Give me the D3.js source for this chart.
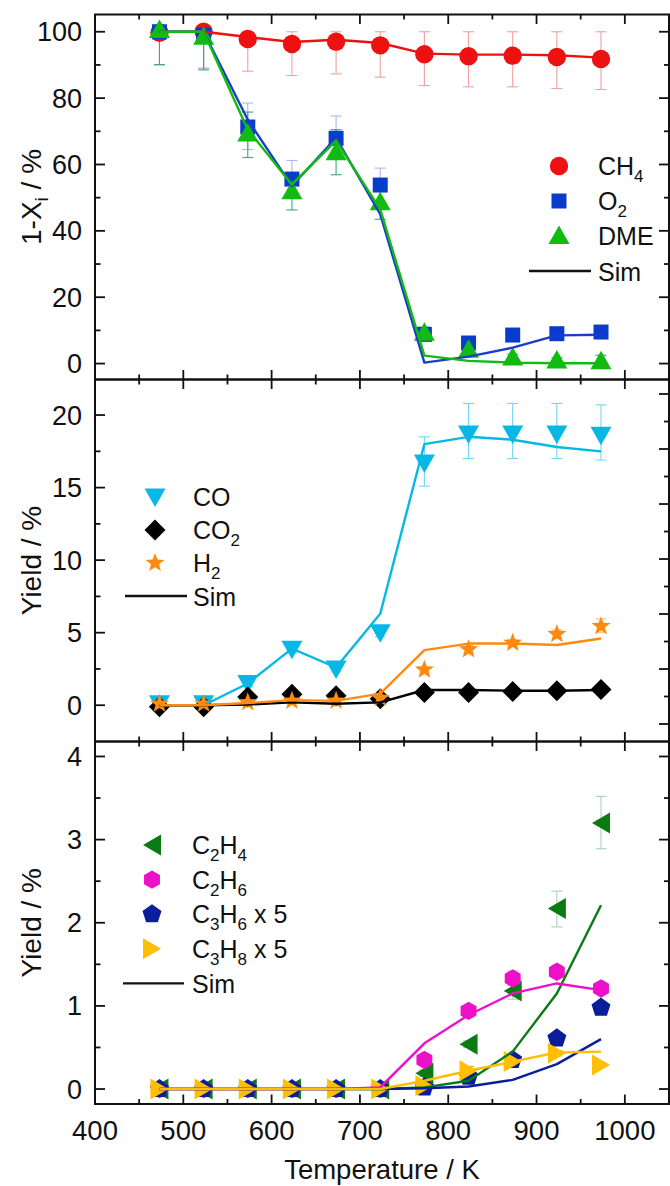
<!DOCTYPE html>
<html><head><meta charset="utf-8">
<script src="https://cdn.jsdelivr.net/npm/d3@7"></script>
<style>
body{margin:0;background:#fff}
text{font-family:"Liberation Sans",Arial,Helvetica,sans-serif;fill:#111}
</style>
</head><body>
<svg id="chart" width="670" height="1186"></svg>
<script>
// ---------------- data ----------------
const temperature = [473, 523, 573, 623, 673, 723, 773, 823, 873, 923, 973];
const xTickLabels = [400, 500, 600, 700, 800, 900, 1000];

// panel 1 : 1 - X_i / %
const ch4    = [99.7, 100, 97.8, 96.3, 97.0, 95.9, 93.2, 92.6, 92.8, 92.4, 91.8];
const ch4Lo  = [90.0, 89.0, 88.1, 86.8, 87.3, 86.3, 83.8, 83.4, 83.4, 82.9, 82.6];
const ch4Hi  = [100, 100, 100, 100, 100, 100, 100, 100, 100, 100, 100];
const ch4Sim = [100, 100, 98.4, 96.9, 97.6, 96.6, 93.4, 93.1, 93.1, 92.9, 92.2];
const o2     = [100, 99.0, 71.3, 55.6, 67.9, 53.8, 8.8, 6.2, 8.6, 9.0, 9.5];
const o2Lo   = [98.5, 89.0, 64.5, 50.0, 61.5, 48.8, 7.6, 5.0, 7.6, 8.0, 8.5];
const o2Hi   = [101.5, 100.5, 78.5, 61.2, 74.6, 58.9, 10.0, 7.4, 9.6, 10.0, 10.5];
const o2Sim  = [100, 100, 73.5, 53.5, 68.0, 45.0, 0.3, 2.1, 4.8, 8.5, 8.7];
const dme    = [100.5, 98.5, 69.3, 51.9, 63.7, 48.6, 9.3, 4.2, 1.8, 0.9, 0.7];
const dmeLo  = [90.1, 88.5, 62.1, 46.3, 56.9, 43.5, 7.6, 3.0, 1.0, 0.0, -1.5];
const dmeHi  = [101, 100, 75.8, 57.0, 70.5, 53.5, 11.0, 5.5, 2.8, 1.8, 2.5];
const dmeSim = [100, 100, 70.5, 54.0, 67.2, 46.5, 2.4, 0.8, 0.3, 0.1, 0.1];
const topTickLabels = [0, 20, 40, 60, 80, 100];

// panel 2 : yield / %
const co     = [0.1, 0.1, 1.5, 3.85, 2.5, 5.0, 16.7, 18.7, 18.7, 18.7, 18.6];
const coLo   = [0.0, 0.0, 1.3, 3.6, 2.3, 4.7, 15.1, 17.0, 17.0, 17.0, 16.9];
const coHi   = [0.2, 0.2, 1.7, 4.1, 2.7, 5.5, 18.5, 20.8, 20.8, 20.8, 20.7];
const coSim  = [0, 0, 1.5, 3.9, 2.6, 6.3, 18.0, 18.5, 18.3, 17.8, 17.5];
const co2    = [-0.1, -0.1, 0.57, 0.75, 0.65, 0.45, 0.87, 0.87, 0.95, 1.0, 1.08];
const co2Sim = [0, 0, 0.05, 0.2, 0.1, 0.2, 1.05, 1.05, 1.0, 1.0, 1.05];
const h2     = [0.1, 0.1, 0.2, 0.3, 0.3, 0.5, 2.45, 3.85, 4.3, 4.9, 5.45];
const h2Lo   = [0.0, 0.0, 0.1, 0.2, 0.2, 0.4, 2.3, 3.6, 4.1, 4.6, 5.0];
const h2Hi   = [0.2, 0.2, 0.3, 0.4, 0.4, 0.6, 2.6, 4.1, 4.5, 5.2, 5.95];
const h2Sim  = [0, 0, 0.15, 0.35, 0.3, 0.8, 3.8, 4.25, 4.25, 4.15, 4.6];
const midTickLabels = [0, 5, 10, 15, 20];

// panel 3 : yield / %
const c2h4    = [0, 0, 0, 0, 0, 0, 0.19, 0.54, 1.18, 2.17, 3.20];
const c2h4Lo  = [0, 0, 0, 0, 0, 0, 0.15, 0.50, 1.08, 1.95, 2.89];
const c2h4Hi  = [0, 0, 0, 0, 0, 0, 0.23, 0.58, 1.30, 2.38, 3.52];
const c2h4Sim = [0, 0, 0, 0, 0, 0, 0.02, 0.10, 0.45, 1.15, 2.21];
const c2h6    = [0, 0, 0, 0, 0, 0, 0.35, 0.94, 1.33, 1.41, 1.21];
const c2h6Lo  = [0, 0, 0, 0, 0, 0, 0.31, 0.90, 1.25, 1.34, 1.15];
const c2h6Hi  = [0, 0, 0, 0, 0, 0, 0.39, 0.98, 1.42, 1.49, 1.27];
const c2h6Sim = [0, 0, 0, 0, 0, 0.02, 0.55, 0.89, 1.15, 1.27, 1.19];
const c3h6    = [0, 0, 0, 0, 0, 0, 0.02, 0.15, 0.35, 0.61, 0.98];
const c3h6Sim = [0, 0, 0, 0, 0, 0, 0.01, 0.03, 0.11, 0.30, 0.60];
const c3h8    = [0, 0, 0, 0, 0, 0, 0.04, 0.22, 0.33, 0.43, 0.29];
const c3h8Lo  = [0, 0, 0, 0, 0, 0, 0.02, 0.17, 0.27, 0.40, 0.27];
const c3h8Hi  = [0, 0, 0, 0, 0, 0, 0.06, 0.27, 0.39, 0.46, 0.31];
const c3h8Sim = [0, 0, 0, 0, 0, 0, 0.10, 0.22, 0.33, 0.44, 0.45];
const botTickLabels = [0, 1, 2, 3, 4];

// ---------------- layout ----------------
const svg = d3.select("#chart");
const L = 95, R = 669;
const x = d3.scaleLinear().domain([400, 1050]).range([L, R]);
const bounds = [14.5, 379.5, 741.5, 1104];

const panels = [
  { y: d3.scaleLinear().domain([-4.8, 105.2]).range([bounds[1], bounds[0]]),
    labels: topTickLabels, minor: d3.range(10, 101, 20), title: "1-X_i / %",
    right: null },
  { y: d3.scaleLinear().domain([-2.5, 22.45]).range([bounds[2], bounds[1]]),
    labels: midTickLabels, minor: d3.range(2.5, 20, 5), title: "Yield / %",
    right: d3.scaleLinear().domain([-0.318, 6.264]).range([bounds[2], bounds[1]]) },
  { y: d3.scaleLinear().domain([-0.18, 4.18]).range([bounds[3], bounds[2]]),
    labels: botTickLabels, minor: d3.range(0.5, 4, 1), title: "Yield / %",
    right: null }
];

// ---------------- marker shapes ----------------
const poly = pts => "M" + pts.map(p => p[0].toFixed(2) + "," + p[1].toFixed(2)).join("L") + "Z";
const regular = (n, r, a0) => d3.range(n).map(i => {
  const a = a0 + i * 2 * Math.PI / n; return [r * Math.cos(a), r * Math.sin(a)];
});
const star = (ro, ri) => d3.range(10).map(i => {
  const a = -Math.PI / 2 + i * Math.PI / 5, r = i % 2 ? ri : ro; return [r * Math.cos(a), r * Math.sin(a)];
});
const shapes = {
  circle:  d3.symbol(d3.symbolCircle, Math.PI * 9.2 * 9.2)(),
  square:  poly([[-7.5, -7.5], [7.5, -7.5], [7.5, 7.5], [-7.5, 7.5]]),
  triUp:   poly([[0, -10.5], [10.5, 8], [-10.5, 8]]),
  triDown: poly([[-10.5, -8.5], [10.5, -8.5], [0, 10]]),
  diamond: poly([[0, -10.5], [10.5, 0], [0, 10.5], [-10.5, 0]]),
  star:    poly(star(10, 4.2)),
  triLeft: poly([[-9, 0], [9, -10.5], [9, 10.5]]),
  triRight:poly([[9, 0], [-9, -10.5], [-9, 10.5]]),
  hexagon: poly(regular(6, 9.2, -Math.PI / 2)),
  pentagon:poly(regular(5, 10, -Math.PI / 2))
};

// ---------------- series ----------------
const series = [
  { p: 0, v: ch4, lo: ch4Lo, hi: ch4Hi, sim: ch4Sim, c: "#ee1111", ec: "#f4a0a0", lc: "#ee1111", s: "circle", name: "CH_4" },
  { p: 0, v: o2,  lo: o2Lo,  hi: o2Hi,  sim: o2Sim,  c: "#0a3ccc", ec: "#a8b8f0", lc: "#1a3ccc", s: "square", name: "O_2" },
  { p: 0, v: dme, lo: dmeLo, hi: dmeHi, sim: dmeSim, c: "#11bb11", ec: "#3aa884", lc: "#11bb11", s: "triUp",  name: "DME" },
  { p: 1, v: co,  lo: coLo,  hi: coHi,  sim: coSim,  c: "#08b8e4", ec: "#70d8f2", lc: "#08b8e4", s: "triDown", name: "CO" },
  { p: 1, v: co2, lo: null,  hi: null,  sim: co2Sim, c: "#000000", ec: "#666",    lc: "#000000", s: "diamond", name: "CO_2" },
  { p: 1, v: h2,  lo: h2Lo,  hi: h2Hi,  sim: h2Sim,  c: "#ff8a12", ec: "#ffc080", lc: "#ff8a12", s: "star",    name: "H_2" },
  { p: 2, v: c2h4, lo: c2h4Lo, hi: c2h4Hi, sim: c2h4Sim, c: "#0a7a12", ec: "#a8d4b0", lc: "#0a7a12", s: "triLeft",  name: "C_2H_4" },
  { p: 2, v: c2h6, lo: c2h6Lo, hi: c2h6Hi, sim: c2h6Sim, c: "#ee10c8", ec: "#f6a0e4", lc: "#ee10c8", s: "hexagon",  name: "C_2H_6" },
  { p: 2, v: c3h6, lo: null,   hi: null,   sim: c3h6Sim, c: "#0a1e9c", ec: "#8090d0", lc: "#0a1e9c", s: "pentagon", name: "C_3H_6 x 5" },
  { p: 2, v: c3h8, lo: c3h8Lo, hi: c3h8Hi, sim: c3h8Sim, c: "#ffbe00", ec: "#d8a040", lc: "#ffbe00", s: "triRight", name: "C_3H_8 x 5" }
];

// helper: text with "_x" subscripts
function richText(sel, str, big, small, drop) {
  let i = 0;
  const parts = [];
  while (i < str.length) {
    if (str[i] === "_") { parts.push({ t: str[i + 1], sub: true }); i += 2; }
    else {
      let j = i; while (j < str.length && str[j] !== "_") j++;
      parts.push({ t: str.slice(i, j), sub: false }); i = j;
    }
  }
  let cur = 0;
  parts.forEach(pt => {
    const want = pt.sub ? drop : 0;
    sel.append("tspan").attr("font-size", pt.sub ? small : big).attr("dy", want - cur).text(pt.t);
    cur = want;
  });
}

const plot = svg.append("g");

// error bars
series.forEach(s => {
  if (!s.lo) return;
  const y = panels[s.p].y;
  const g = plot.append("g").attr("stroke", s.ec).attr("stroke-width", 1.1).attr("fill", "none");
  temperature.forEach((t, i) => {
    const lo = s.lo[i], hi = s.hi[i];
    if (Math.abs(hi - lo) < 1e-9) return;
    const cx = x(t);
    g.append("line").attr("x1", cx).attr("x2", cx).attr("y1", y(lo)).attr("y2", y(hi));
    g.append("line").attr("x1", cx - 5.5).attr("x2", cx + 5.5).attr("y1", y(lo)).attr("y2", y(lo));
    g.append("line").attr("x1", cx - 5.5).attr("x2", cx + 5.5).attr("y1", y(hi)).attr("y2", y(hi));
  });
});

// markers
series.forEach(s => {
  const y = panels[s.p].y;
  plot.append("g").selectAll("path").data(temperature).join("path")
    .attr("d", shapes[s.s]).attr("fill", s.c)
    .attr("transform", (t, i) => `translate(${x(t)},${y(s.v[i])})`);
});

// simulation lines
series.forEach(s => {
  const y = panels[s.p].y;
  const line = d3.line().x(t => x(t)).y((t, i) => y(s.sim[i]));
  plot.append("path").attr("d", line(temperature)).attr("fill", "none")
    .attr("stroke", s.lc).attr("stroke-width", 2.4).attr("stroke-linejoin", "round");
});

// ---------------- frames & ticks ----------------
const ax = svg.append("g").attr("stroke", "#111").attr("fill", "none");
panels.forEach((P, k) => {
  const top = bounds[k], bot = bounds[k + 1];
  ax.append("rect").attr("x", L).attr("y", top).attr("width", R - L).attr("height", bot - top).attr("stroke-width", 2);
  // left ticks
  P.labels.forEach(v => ax.append("line").attr("x1", L).attr("x2", L + 10).attr("y1", P.y(v)).attr("y2", P.y(v)).attr("stroke-width", 1.8));
  P.minor.forEach(v => ax.append("line").attr("x1", L).attr("x2", L + 5.5).attr("y1", P.y(v)).attr("y2", P.y(v)).attr("stroke-width", 1.8));
  // right ticks
  if (P.right) {
    d3.range(0, 6.01, 1).forEach(v => ax.append("line").attr("x1", R).attr("x2", R - 10).attr("y1", P.right(v)).attr("y2", P.right(v)).attr("stroke-width", 1.8));
    d3.range(-0.5, 6.3, 1).forEach(v => { const yy = P.right(v); if (yy < bot - 2 && yy > top + 2) ax.append("line").attr("x1", R).attr("x2", R - 5).attr("y1", yy).attr("y2", yy).attr("stroke-width", 1.8); });
  } else {
    P.labels.forEach(v => ax.append("line").attr("x1", R).attr("x2", R - 10).attr("y1", P.y(v)).attr("y2", P.y(v)).attr("stroke-width", 1.8));
    P.minor.forEach(v => ax.append("line").attr("x1", R).attr("x2", R - 5).attr("y1", P.y(v)).attr("y2", P.y(v)).attr("stroke-width", 1.8));
  }
  // x ticks, inward on top and bottom of each panel
  xTickLabels.forEach(v => {
    ax.append("line").attr("x1", x(v)).attr("x2", x(v)).attr("y1", top).attr("y2", top + 9.5).attr("stroke-width", 1.8);
    ax.append("line").attr("x1", x(v)).attr("x2", x(v)).attr("y1", bot).attr("y2", bot - 9.5).attr("stroke-width", 1.8);
  });
  d3.range(450, 1050, 100).forEach(v => {
    ax.append("line").attr("x1", x(v)).attr("x2", x(v)).attr("y1", top).attr("y2", top + 5).attr("stroke-width", 1.8);
    ax.append("line").attr("x1", x(v)).attr("x2", x(v)).attr("y1", bot).attr("y2", bot - 5).attr("stroke-width", 1.8);
  });
  // y tick labels
  svg.append("g").selectAll("text").data(P.labels).join("text")
    .attr("x", L - 13).attr("y", d => P.y(d)).attr("dy", "0.355em")
    .attr("text-anchor", "end").attr("font-size", 27).text(d => d);
  // y title
  const cy = (top + bot) / 2;
  const tt = svg.append("text").attr("transform", `translate(41,${cy}) rotate(-90)`)
    .attr("text-anchor", "middle");
  richText(tt, P.title, 28, 19, 7);
});

// x tick labels and title
svg.append("g").selectAll("text").data(xTickLabels).join("text")
  .attr("x", d => x(d)).attr("y", 1140).attr("text-anchor", "middle").attr("font-size", 27.5).text(d => d);
svg.append("text").attr("x", (L + R) / 2).attr("y", 1179).attr("text-anchor", "middle")
  .attr("font-size", 27.5).text("Temperature / K");

// ---------------- legends ----------------
const legends = [
  { idx: [0, 1, 2], mx: 559, tx: 598, y0: 166, dy: 35, simX: [529, 591] },
  { idx: [3, 4, 5], mx: 155, tx: 193, y0: 497, dy: 33, simX: [125, 187] },
  { idx: [6, 7, 8, 9], mx: 152, tx: 192, y0: 845, dy: 34.6, simX: [123, 184] }
];
legends.forEach(Lg => {
  const g = svg.append("g");
  Lg.idx.forEach((si, j) => {
    const s = series[si], yy = Lg.y0 + j * Lg.dy;
    g.append("path").attr("d", shapes[s.s]).attr("fill", s.c).attr("transform", `translate(${Lg.mx},${yy})`);
    const t = g.append("text").attr("x", Lg.tx).attr("y", yy + 9);
    richText(t, s.name, 25, 17, 7);
  });
  const ys = Lg.y0 + Lg.idx.length * Lg.dy;
  g.append("line").attr("x1", Lg.simX[0]).attr("x2", Lg.simX[1]).attr("y1", ys).attr("y2", ys)
    .attr("stroke", "#111").attr("stroke-width", 2.4);
  g.append("text").attr("x", Lg.tx).attr("y", ys + 9.5).attr("font-size", 25).text("Sim");
});
</script>
</body></html>
